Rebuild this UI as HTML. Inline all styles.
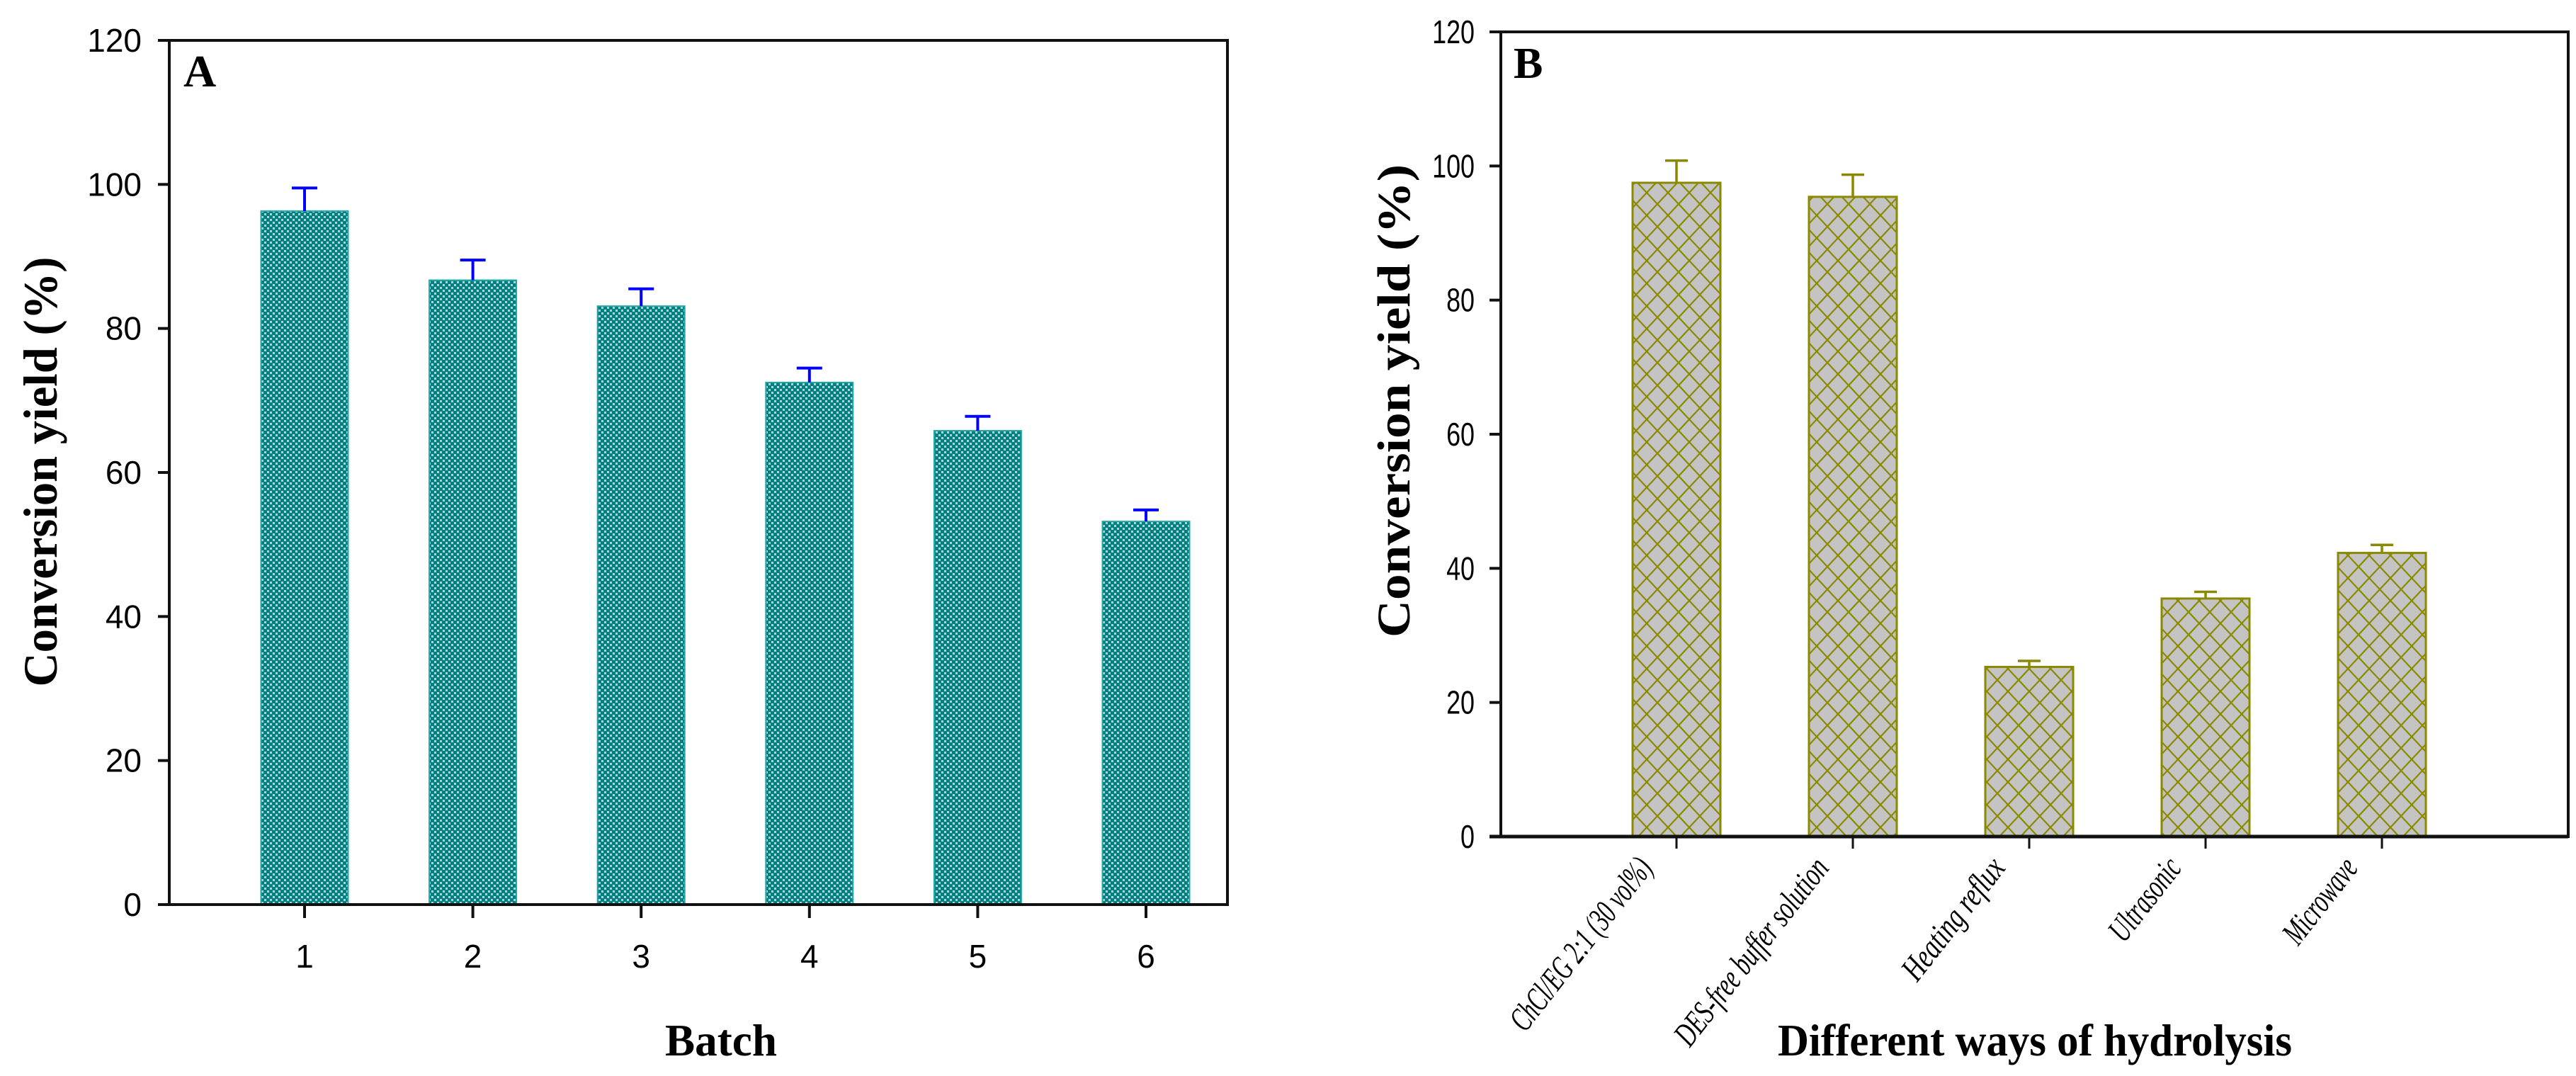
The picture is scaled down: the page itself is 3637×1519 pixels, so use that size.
<!DOCTYPE html>
<html><head><meta charset="utf-8"><style>
html,body{margin:0;padding:0;background:#fff;}
svg{display:block;}
</style></head><body>
<svg id="fig" width="3637" height="1519" viewBox="0 0 3637 1519" xmlns="http://www.w3.org/2000/svg">
<defs>
<pattern id="checker" width="8" height="8" patternUnits="userSpaceOnUse">
<rect width="8" height="8" fill="#008080"/>
<rect x="1" y="1" width="3" height="3" fill="#c8c8c8"/>
<rect x="5" y="5" width="3" height="3" fill="#c8c8c8"/>
</pattern>
<pattern id="hatch" width="30" height="32" patternUnits="userSpaceOnUse">
<rect width="30" height="32" fill="#c4c4c4"/>
<path d="M0,0 L30,32 M30,0 L0,32" stroke="#8a8a00" stroke-width="2.2" fill="none"/>
</pattern>
</defs>
<g id="panelA"></g>
<g id="panelB"></g>
</svg>
<script>
const catsA = ["1","2","3","4","5","6"];
const valsA = [96.3, 86.7, 83.1, 72.5, 65.8, 53.2];
const errA = [3.2, 2.8, 2.4, 2.0, 2.0, 1.6];
const ticksA = [0,20,40,60,80,100,120];

const catsB = ["ChCl/EG 2:1 (30 vol%)","DES-free buffer solution","Heating reflux","Ultrasonic","Microwave"];
const valsB = [97.5, 95.4, 25.3, 35.5, 42.3];
const errB = [3.3, 3.3, 0.9, 1.0, 1.2];
const ticksB = [0,20,40,60,80,100,120];

const NS = "http://www.w3.org/2000/svg";
function mk(parent, tag, attrs, text){
  const e = document.createElementNS(NS, tag);
  for (const k in attrs) e.setAttribute(k, attrs[k]);
  if (text !== undefined) e.textContent = text;
  parent.appendChild(e);
  return e;
}

// ---------- Panel A ----------
(function(){
  const g = document.getElementById('panelA');
  const L=239, R=1733, T=57, B=1277, ymax=120;
  const y = v => B - (v/ymax)*(B-T);
  const x = i => 430 + i*237.6;
  const bw = 123;
  const fr = mk(g,'rect',{x:L,y:T,width:R-L,height:B-T,fill:'none',stroke:'#111','stroke-width':4});
  
  
  ticksA.forEach(t=>{
    const tk = mk(g,'line',{x1:L-16,x2:L,y1:y(t),y2:y(t),stroke:'#111','stroke-width':4});
    
    
    const lb = mk(g,'text',{x:200,y:y(t)+16,'text-anchor':'end','font-family':'Liberation Sans, Arial, sans-serif','font-size':46,fill:'#000'},String(t));
    
    
  });
  valsA.forEach((v,i)=>{
    const cx = x(i);
    const bar = mk(g,'rect',{x:cx-bw/2,y:y(v),width:bw,height:B-y(v),fill:'url(#checker)',stroke:'#20a8a8','stroke-width':2});
    
    
    const eb = mk(g,'path',{d:`M${cx},${y(v)} V${y(v+errA[i])} M${cx-18},${y(v+errA[i])} H${cx+18}`,stroke:'#0000ff','stroke-width':4,fill:'none'});
    
    
    const tk = mk(g,'line',{x1:cx,x2:cx,y1:B,y2:B+19,stroke:'#111','stroke-width':4});
    
    
    const lb = mk(g,'text',{x:cx,y:1366,'text-anchor':'middle','font-family':'Liberation Sans, Arial, sans-serif','font-size':46,fill:'#000'},catsA[i]);
    
    
  });
  mk(g,'line',{x1:L-16,x2:R,y1:B,y2:B,stroke:'#111','stroke-width':4});
  const pl = mk(g,'text',{x:259,y:122,'font-family':'Liberation Serif, Times New Roman, serif','font-size':64,'font-weight':'bold',fill:'#000'},'A');
  
  
  const yt = mk(g,'text',{x:0,y:0,transform:'translate(80,666) rotate(-90)','text-anchor':'middle','font-family':'Liberation Serif, Times New Roman, serif','font-size':68,'font-weight':'bold',textLength:607,lengthAdjust:'spacingAndGlyphs',fill:'#000'},'Conversion yield (%)');
  
  
  const xt = mk(g,'text',{x:1018,y:1490,'text-anchor':'middle','font-family':'Liberation Serif, Times New Roman, serif','font-size':64,'font-weight':'bold',textLength:158,lengthAdjust:'spacingAndGlyphs',fill:'#000'},'Batch');
  
  
})();

// ---------- Panel B ----------
(function(){
  const g = document.getElementById('panelB');
  const L=2119, R=3626, T=45, B=1181, ymax=120;
  const y = v => B - (v/ymax)*(B-T);
  const x = i => 2367 + i*249;
  const bw = 124;
  const lens = [295, 322, 205, 135, 140];
  const fr = mk(g,'rect',{x:L,y:T,width:R-L,height:B-T,fill:'none',stroke:'#111','stroke-width':4});
  
  
  ticksB.forEach(t=>{
    const tk = mk(g,'line',{x1:L-16,x2:L,y1:y(t),y2:y(t),stroke:'#111','stroke-width':4});
    
    
    const lb = mk(g,'text',{x:0,y:0,transform:`translate(2082,${y(t)+16}) scale(0.78,1)`,'text-anchor':'end','font-family':'Liberation Sans, Arial, sans-serif','font-size':46,fill:'#000'},String(t));
    
    
  });
  valsB.forEach((v,i)=>{
    const cx = x(i);
    const bar = mk(g,'rect',{x:cx-bw/2,y:y(v),width:bw,height:B-y(v),fill:'url(#hatch)',stroke:'#8a8a00','stroke-width':3});
    
    
    const eb = mk(g,'path',{d:`M${cx},${y(v)} V${y(v+errB[i])} M${cx-16},${y(v+errB[i])} H${cx+16}`,stroke:'#8a8a00','stroke-width':3.5,fill:'none'});
    
    
    const tk = mk(g,'line',{x1:cx,x2:cx,y1:B,y2:B+17,stroke:'#111','stroke-width':3});
    
    
    const lb = mk(g,'text',{x:0,y:0,transform:`translate(${cx-32},${1226}) rotate(-52)`,'text-anchor':'end','font-family':'Liberation Serif, Times New Roman, serif','font-size':48,'font-style':'italic',textLength:lens[i],lengthAdjust:'spacingAndGlyphs',fill:'#000'},catsB[i]);
    
    
  });
  mk(g,'line',{x1:L-16,x2:R,y1:B,y2:B,stroke:'#111','stroke-width':5});
  const pl = mk(g,'text',{x:2137,y:110,'font-family':'Liberation Serif, Times New Roman, serif','font-size':62,'font-weight':'bold',fill:'#000'},'B');
  
  
  const yt = mk(g,'text',{x:0,y:0,transform:'translate(1990,566) rotate(-90)','text-anchor':'middle','font-family':'Liberation Serif, Times New Roman, serif','font-size':66,'font-weight':'bold',textLength:668,lengthAdjust:'spacingAndGlyphs',fill:'#000'},'Conversion yield (%)');
  
  
  const xt = mk(g,'text',{x:2873,y:1490,'text-anchor':'middle','font-family':'Liberation Serif, Times New Roman, serif','font-size':64,'font-weight':'bold',textLength:726,lengthAdjust:'spacingAndGlyphs',fill:'#000'},'Different ways of hydrolysis');
  
  
})();
</script>
</body></html>
